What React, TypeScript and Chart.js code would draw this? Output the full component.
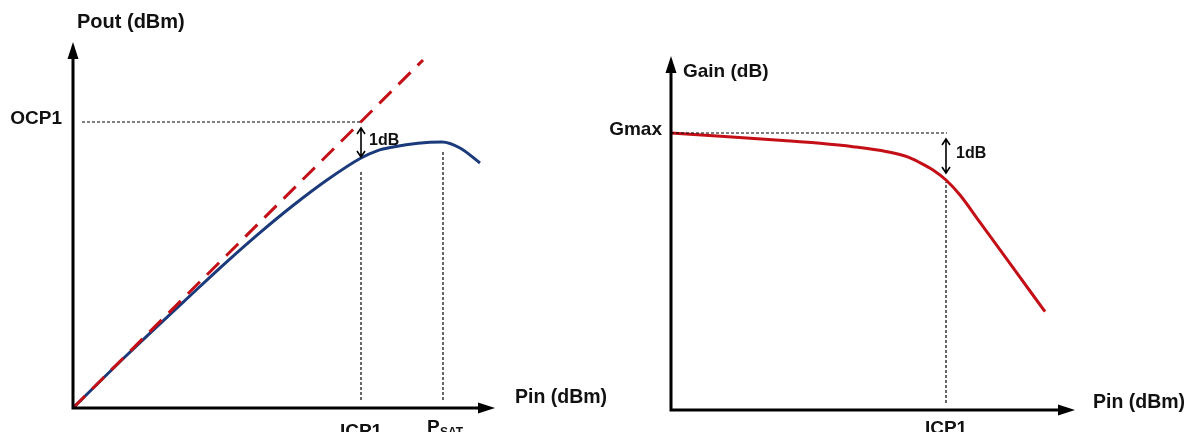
import React, { useEffect, useRef } from "react";
import { Chart, registerables } from "chart.js";

Chart.register(...registerables);

const FONT = '"Liberation Sans", Arial, sans-serif';
const RED = "#c40f17";
const BLUE = "#1b3a7c";
const DOT = "#000000";

// ---------- Left chart: Pout vs Pin ----------
const pinLinear = [0, 35.0];
const poutLinear = [0, 34.8];
const pinActual = [0, 5.4, 12.0, 15.4, 18.7, 22.0, 25.4, 28.8, 30.4, 32.0, 34.5, 36.9, 38.7, 40.7];
const poutActual = [0, 5.3, 11.5, 14.64, 17.54, 20.25, 22.8, 25.0, 25.72, 26.1, 26.48, 26.6, 26.0, 24.5];
const OCP1 = 28.6;
const ICP1_L = 28.8;
const PSAT = 37.0;
const leftXMax = 42.2;
const leftYMax = 36.6;
const leftArrow = [28.0, 25.1]; // 1dB arrow ends (Pout)

// ---------- Right chart: Gain vs Pin ----------
const pinGain = [0, 4.6, 11.2, 14.9, 18.2, 21.6, 23.6, 24.9, 26.2, 27.5, 28.9, 30.9, 33.6, 37.4];
const gainValues = [27.7, 27.4, 26.95, 26.67, 26.33, 25.83, 25.33, 24.73, 24.0, 23.0, 21.5, 18.76, 15.06, 9.83];
const GMAX = 27.7;
const ICP1_R = 27.5;
const rightXMax = 40.4;
const rightYMax = 35.4;
const rightArrow = [27.1, 23.7]; // 1dB arrow ends (Gain)

const pts = (xs: number[], ys: number[]) => xs.map((x, i) => ({ x, y: ys[i] }));

function drawAxes(ctx: CanvasRenderingContext2D, chart: any, xMax: number, yMax: number) {
  const { x, y } = chart.scales;
  const x0 = x.getPixelForValue(0);
  const y0 = y.getPixelForValue(0);
  const xt = x.getPixelForValue(xMax);
  const yt = y.getPixelForValue(yMax);
  ctx.save();
  ctx.strokeStyle = "#000";
  ctx.fillStyle = "#000";
  ctx.lineWidth = 3;
  ctx.setLineDash([]);
  ctx.beginPath();
  ctx.moveTo(x0, y0 + 1.5);
  ctx.lineTo(x0, yt + 12);
  ctx.moveTo(x0 - 1.5, y0);
  ctx.lineTo(xt - 12, y0);
  ctx.stroke();
  ctx.beginPath();
  ctx.moveTo(x0, yt);
  ctx.lineTo(x0 - 5.5, yt + 17);
  ctx.lineTo(x0 + 5.5, yt + 17);
  ctx.closePath();
  ctx.fill();
  ctx.beginPath();
  ctx.moveTo(xt, y0);
  ctx.lineTo(xt - 17, y0 - 5.5);
  ctx.lineTo(xt - 17, y0 + 5.5);
  ctx.closePath();
  ctx.fill();
  ctx.restore();
}

function drawDoubleArrow(ctx: CanvasRenderingContext2D, chart: any, xv: number, ya: number, yb: number) {
  const { x, y } = chart.scales;
  const px = x.getPixelForValue(xv);
  const p1 = y.getPixelForValue(ya);
  const p2 = y.getPixelForValue(yb);
  ctx.save();
  ctx.strokeStyle = "#000";
  ctx.lineWidth = 1.6;
  ctx.setLineDash([]);
  ctx.beginPath();
  ctx.moveTo(px, p1);
  ctx.lineTo(px, p2);
  ctx.moveTo(px - 4, p1 + 6);
  ctx.lineTo(px, p1);
  ctx.lineTo(px + 4, p1 + 6);
  ctx.moveTo(px - 4, p2 - 6);
  ctx.lineTo(px, p2);
  ctx.lineTo(px + 4, p2 - 6);
  ctx.stroke();
  ctx.restore();
}

function text(ctx: CanvasRenderingContext2D, s: string, px: number, py: number, size: number, align: CanvasTextAlign, base: CanvasTextBaseline) {
  ctx.save();
  ctx.fillStyle = "#111";
  ctx.font = `bold ${size}px ${FONT}`;
  ctx.textAlign = align;
  ctx.textBaseline = base;
  ctx.fillText(s, px, py);
  ctx.restore();
}

const leftPlugin = {
  id: "leftDecor",
  afterDatasetsDraw(chart: any) {
    const ctx = chart.ctx as CanvasRenderingContext2D;
    const { x, y } = chart.scales;
    drawAxes(ctx, chart, leftXMax, leftYMax);
    drawDoubleArrow(ctx, chart, ICP1_L, leftArrow[0], leftArrow[1]);
    const x0 = x.getPixelForValue(0);
    const y0 = y.getPixelForValue(0);
    text(ctx, "Pout (dBm)", x0 + 4, y.getPixelForValue(leftYMax) - 20, 20, "left", "middle");
    text(ctx, "OCP1", x0 - 11, y.getPixelForValue(OCP1) - 3, 19, "right", "middle");
    text(ctx, "Pin (dBm)", x.getPixelForValue(leftXMax) + 20, y0 - 10, 19.5, "left", "middle");
    text(ctx, "1dB", x.getPixelForValue(ICP1_L) + 8, y.getPixelForValue((leftArrow[0] + leftArrow[1]) / 2) - 2, 16, "left", "middle");
    text(ctx, "ICP1", x.getPixelForValue(ICP1_L), y0 + 29, 19, "center", "alphabetic");
    const ps = x.getPixelForValue(PSAT);
    text(ctx, "P", ps - 16, y0 + 25, 19, "left", "alphabetic");
    text(ctx, "SAT", ps - 3, y0 + 28, 12, "left", "alphabetic");
  },
};

const rightPlugin = {
  id: "rightDecor",
  afterDatasetsDraw(chart: any) {
    const ctx = chart.ctx as CanvasRenderingContext2D;
    const { x, y } = chart.scales;
    drawAxes(ctx, chart, rightXMax, rightYMax);
    drawDoubleArrow(ctx, chart, ICP1_R, rightArrow[0], rightArrow[1]);
    const x0 = x.getPixelForValue(0);
    const y0 = y.getPixelForValue(0);
    text(ctx, "Gain (dB)", x0 + 12, y.getPixelForValue(rightYMax) + 16, 19, "left", "middle");
    text(ctx, "Gmax", x0 - 9, y.getPixelForValue(GMAX) - 3, 19, "right", "middle");
    text(ctx, "Pin (dBm)", x.getPixelForValue(rightXMax) + 18, y0 - 7, 19.5, "left", "middle");
    text(ctx, "1dB", x.getPixelForValue(ICP1_R) + 10, y.getPixelForValue((rightArrow[0] + rightArrow[1]) / 2) - 2, 16, "left", "middle");
    text(ctx, "ICP1", x.getPixelForValue(ICP1_R), y0 + 24, 19, "center", "alphabetic");
  },
};

function baseOptions(pad: any, xMax: number, yMax: number) {
  return {
    responsive: false,
    animation: false as const,
    events: [] as any[],
    layout: { padding: pad },
    plugins: { legend: { display: false }, tooltip: { enabled: false } },
    elements: { point: { radius: 0 } },
    scales: {
      x: { type: "linear" as const, min: 0, max: xMax, display: false },
      y: { type: "linear" as const, min: 0, max: yMax, display: false },
    },
  };
}

const dotted = (data: any[]) => ({
  data,
  borderColor: DOT,
  borderWidth: 1.2,
  borderDash: [3, 2],
  pointRadius: 0,
  clip: false as const,
});

export default function App() {
  const leftRef = useRef<HTMLCanvasElement>(null);
  const rightRef = useRef<HTMLCanvasElement>(null);

  useEffect(() => {
    const left = new Chart(leftRef.current!, {
      type: "line",
      data: {
        datasets: [
          dotted([{ x: 0.9, y: OCP1 }, { x: ICP1_L, y: OCP1 }]),
          dotted([{ x: ICP1_L, y: 0.8 }, { x: ICP1_L, y: 23.6 }]),
          dotted([{ x: PSAT, y: 0.8 }, { x: PSAT, y: 25.8 }]),
          {
            data: pts(pinLinear, poutLinear),
            borderColor: RED,
            borderWidth: 3,
            borderDash: [17, 10],
            pointRadius: 0,
            clip: false as const,
          },
          {
            data: pts(pinActual, poutActual),
            borderColor: BLUE,
            borderWidth: 3,
            cubicInterpolationMode: "monotone" as const,
            pointRadius: 0,
            clip: false as const,
          },
        ],
      },
      options: baseOptions({ left: 73, top: 42, right: 1191 - 495, bottom: 432 - 408 }, leftXMax, leftYMax) as any,
      plugins: [leftPlugin],
    });

    const right = new Chart(rightRef.current!, {
      type: "line",
      data: {
        datasets: [
          dotted([{ x: 0, y: GMAX }, { x: ICP1_R + 0.1, y: GMAX }]),
          dotted([{ x: ICP1_R, y: 0.7 }, { x: ICP1_R, y: 22.8 }]),
          {
            data: pts(pinGain, gainValues),
            borderColor: RED,
            borderWidth: 3,
            cubicInterpolationMode: "monotone" as const,
            pointRadius: 0,
            clip: false as const,
          },
        ],
      },
      options: baseOptions({ left: 671, top: 56, right: 1191 - 1075, bottom: 432 - 410 }, rightXMax, rightYMax) as any,
      plugins: [rightPlugin],
    });

    return () => {
      left.destroy();
      right.destroy();
    };
  }, []);

  const cstyle: React.CSSProperties = { position: "absolute", left: 0, top: 0, width: 1191, height: 432 };
  return (
    <div style={{ position: "fixed", left: 0, top: 0, width: 1191, height: 432, background: "#fff", overflow: "hidden" }}>
      <canvas ref={leftRef} width={1191} height={432} style={cstyle} />
      <canvas ref={rightRef} width={1191} height={432} style={cstyle} />
    </div>
  );
}
